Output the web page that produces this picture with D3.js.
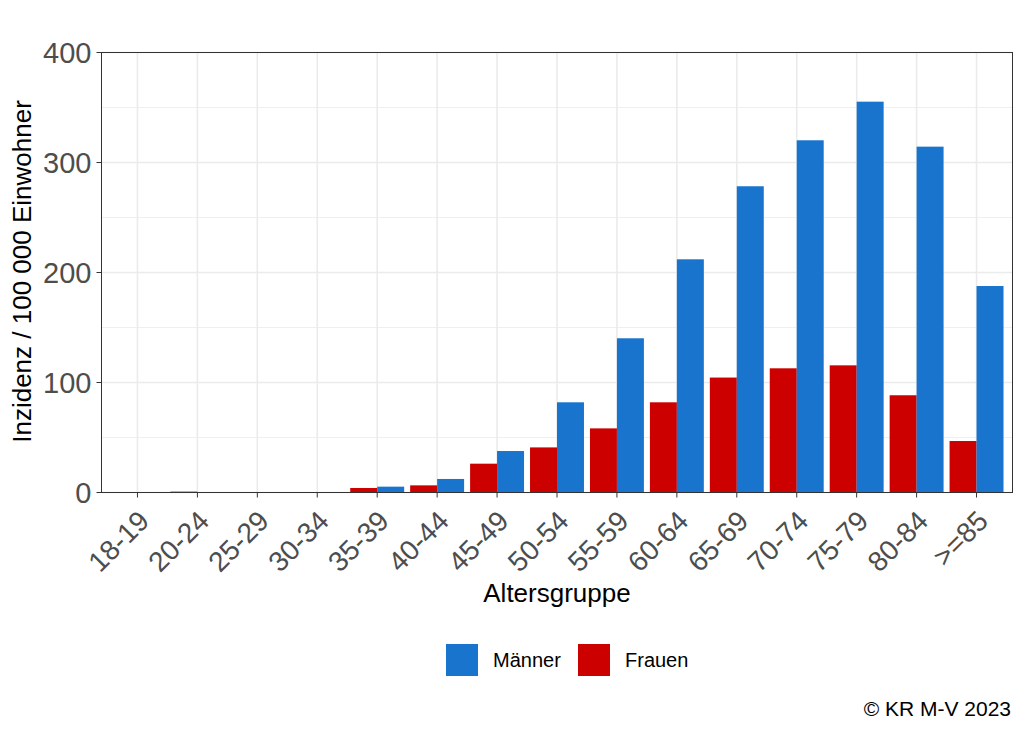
<!DOCTYPE html>
<html>
<head>
<meta charset="utf-8">
<script src="https://cdn.jsdelivr.net/npm/d3@7"></script>
<style>
  body { margin: 0; background: #fff; }
  text { font-family: "Liberation Sans", Arial, sans-serif; }
</style>
</head>
<body>
<div id="chart"></div>
<script>
var ageGroups = ["18-19", "20-24", "25-29", "30-34", "35-39", "40-44", "45-49",
  "50-54", "55-59", "60-64", "65-69", "70-74", "75-79", "80-84", ">=85"];
var maenner = [0, 0, 0, 0, 5.3, 12.3, 37.7, 82, 140.2, 212, 278.4, 320.2, 355.3, 314.4, 187.7];
var frauen = [0, 0.8, 0, 0, 4.1, 6.5, 26.2, 41, 58.3, 82, 104.5, 112.9, 115.6, 88.4, 46.8];
var yTicks = [0, 100, 200, 300, 400];
var yMinor = [50, 150, 250, 350];
var sexes = ["Frauen", "Männer"];
var legendOrder = ["Männer", "Frauen"];

var colors = { "Männer": "#1874CD", "Frauen": "#CD0000" };

var w = 1024, h = 731;
var panel = { left: 101.5, right: 1012.5, top: 52.5, bottom: 492.5 };

var svg = d3.select("#chart").append("svg")
  .attr("width", w)
  .attr("height", h);

var x0 = d3.scaleBand()
  .domain(ageGroups)
  .range([panel.left, panel.right])
  .paddingInner(0)
  .paddingOuter(0.1);

var x1 = d3.scaleBand()
  .domain(sexes)
  .range([0.05 * x0.bandwidth(), 0.95 * x0.bandwidth()]);

var y = d3.scaleLinear()
  .domain([0, 400])
  .range([panel.bottom, panel.top]);

// grid
var grid = svg.append("g");
grid.selectAll(".minor").data(yMinor).enter().append("line")
  .attr("x1", panel.left).attr("x2", panel.right)
  .attr("y1", function(d) { return y(d); })
  .attr("y2", function(d) { return y(d); })
  .attr("stroke", "#EBEBEB").attr("stroke-width", 0.8);
grid.selectAll(".major").data(yTicks).enter().append("line")
  .attr("x1", panel.left).attr("x2", panel.right)
  .attr("y1", function(d) { return y(d); })
  .attr("y2", function(d) { return y(d); })
  .attr("stroke", "#EBEBEB").attr("stroke-width", 1.6);
grid.selectAll(".vert").data(ageGroups).enter().append("line")
  .attr("x1", function(d) { return x0(d) + x0.bandwidth() / 2; })
  .attr("x2", function(d) { return x0(d) + x0.bandwidth() / 2; })
  .attr("y1", panel.top).attr("y2", panel.bottom)
  .attr("stroke", "#EBEBEB").attr("stroke-width", 1.6);

// bars
var rows = ageGroups.map(function(g, i) {
  return { group: g, values: [
    { sex: "Frauen", v: frauen[i] },
    { sex: "Männer", v: maenner[i] }
  ] };
});

var groups = svg.selectAll(".grp").data(rows).enter().append("g")
  .attr("transform", function(d) { return "translate(" + x0(d.group) + ",0)"; });

groups.selectAll("rect").data(function(d) { return d.values; }).enter().append("rect")
  .attr("x", function(d) { return x1(d.sex); })
  .attr("width", x1.bandwidth())
  .attr("y", function(d) { return y(d.v); })
  .attr("height", function(d) { return y(0) - y(d.v); })
  .attr("fill", function(d) { return colors[d.sex]; });

// panel border
svg.append("rect")
  .attr("x", panel.left).attr("y", panel.top)
  .attr("width", panel.right - panel.left)
  .attr("height", panel.bottom - panel.top)
  .attr("fill", "none").attr("stroke", "#333333").attr("stroke-width", 1);

// y axis
var yAxis = svg.append("g");
yAxis.selectAll("line").data(yTicks).enter().append("line")
  .attr("x1", panel.left - 5).attr("x2", panel.left)
  .attr("y1", function(d) { return y(d); })
  .attr("y2", function(d) { return y(d); })
  .attr("stroke", "#333333");
yAxis.selectAll("text").data(yTicks).enter().append("text")
  .attr("x", panel.left - 10)
  .attr("y", function(d) { return y(d); })
  .attr("dy", "0.36em")
  .attr("text-anchor", "end")
  .attr("font-size", 29)
  .attr("fill", "#4D4D4D")
  .text(function(d) { return d; });

// x axis
var xAxis = svg.append("g");
xAxis.selectAll("line").data(ageGroups).enter().append("line")
  .attr("x1", function(d) { return x0(d) + x0.bandwidth() / 2; })
  .attr("x2", function(d) { return x0(d) + x0.bandwidth() / 2; })
  .attr("y1", panel.bottom).attr("y2", panel.bottom + 5)
  .attr("stroke", "#333333");
xAxis.selectAll("text").data(ageGroups).enter().append("text")
  .attr("transform", function(d) {
    return "translate(" + (x0(d) + x0.bandwidth() / 2 - 1) + "," + (panel.bottom + 16) + ") rotate(-45)";
  })
  .attr("dy", "0.72em")
  .attr("text-anchor", "end")
  .attr("font-size", 28)
  .attr("fill", "#4D4D4D")
  .text(function(d) { return d; });

// axis titles
svg.append("text")
  .attr("x", (panel.left + panel.right) / 2)
  .attr("y", 602)
  .attr("text-anchor", "middle")
  .attr("font-size", 26)
  .attr("fill", "#000")
  .text("Altersgruppe");

svg.append("text")
  .attr("transform", "translate(31," + ((panel.top + panel.bottom) / 2 - 1) + ") rotate(-90)")
  .attr("text-anchor", "middle")
  .attr("font-size", 26)
  .attr("fill", "#000")
  .text("Inzidenz / 100 000 Einwohner");

// legend
var legendX = [446, 578];
var legend = svg.selectAll(".leg").data(legendOrder).enter().append("g")
  .attr("transform", function(d, i) { return "translate(" + legendX[i] + ",644)"; });
legend.append("rect")
  .attr("width", 32).attr("height", 32)
  .attr("fill", function(d) { return colors[d]; });
legend.append("text")
  .attr("x", 47).attr("y", 16)
  .attr("dy", "0.36em")
  .attr("font-size", 20)
  .attr("fill", "#000")
  .text(function(d) { return d; });

// caption
svg.append("text")
  .attr("x", 1011).attr("y", 716)
  .attr("text-anchor", "end")
  .attr("font-size", 21)
  .attr("fill", "#000")
  .text("© KR M-V 2023");
</script>
</body>
</html>
